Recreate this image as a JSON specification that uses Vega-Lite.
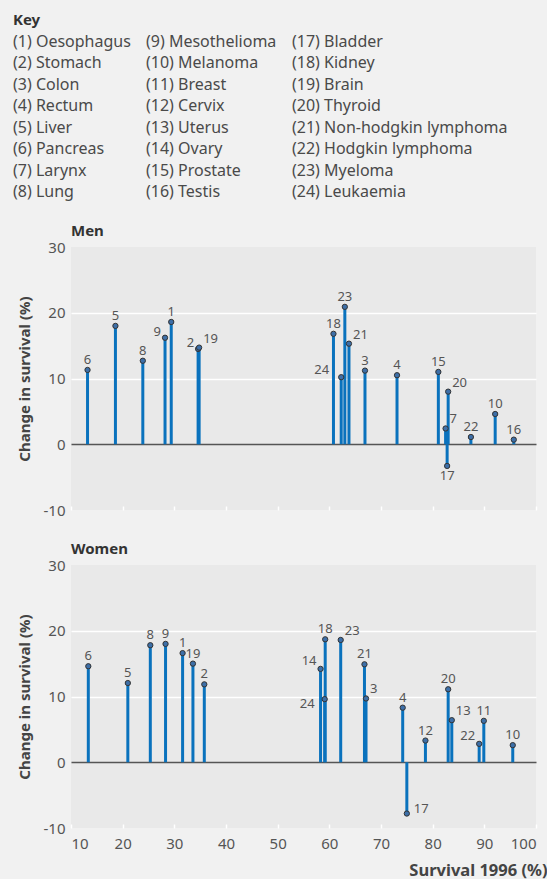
{
  "$schema": "https://vega.github.io/schema/vega-lite/v6.json",
  "background": "#f1f1f1",
  "padding": {"left": 13, "top": 13, "right": 0, "bottom": 0},
  "spacing": 23,
  "config": {
    "font": "Noto Sans",
    "view": {"stroke": null},
    "title": {"fontSize": 15, "fontWeight": "bold", "color": "#333", "anchor": "start", "frame": "group", "offset": 1.5}
  },
  "datasets": {
    "key": [
      {"label": "Key", "col": 1, "row": 0},
      {"label": "(1) Oesophagus", "col": 1, "row": 1},
      {"label": "(2) Stomach", "col": 1, "row": 2},
      {"label": "(3) Colon", "col": 1, "row": 3},
      {"label": "(4) Rectum", "col": 1, "row": 4},
      {"label": "(5) Liver", "col": 1, "row": 5},
      {"label": "(6) Pancreas", "col": 1, "row": 6},
      {"label": "(7) Larynx", "col": 1, "row": 7},
      {"label": "(8) Lung", "col": 1, "row": 8},
      {"label": "(9) Mesothelioma", "col": 2, "row": 1},
      {"label": "(10) Melanoma", "col": 2, "row": 2},
      {"label": "(11) Breast", "col": 2, "row": 3},
      {"label": "(12) Cervix", "col": 2, "row": 4},
      {"label": "(13) Uterus", "col": 2, "row": 5},
      {"label": "(14) Ovary", "col": 2, "row": 6},
      {"label": "(15) Prostate", "col": 2, "row": 7},
      {"label": "(16) Testis", "col": 2, "row": 8},
      {"label": "(17) Bladder", "col": 3, "row": 1},
      {"label": "(18) Kidney", "col": 3, "row": 2},
      {"label": "(19) Brain", "col": 3, "row": 3},
      {"label": "(20) Thyroid", "col": 3, "row": 4},
      {"label": "(21) Non-hodgkin lymphoma", "col": 3, "row": 5},
      {"label": "(22) Hodgkin lymphoma", "col": 3, "row": 6},
      {"label": "(23) Myeloma", "col": 3, "row": 7},
      {"label": "(24) Leukaemia", "col": 3, "row": 8}
    ],
    "pts": [
      {"sex": "Men", "n": 6, "survival": 13.2, "change": 11.3},
      {"sex": "Men", "n": 5, "survival": 18.6, "change": 18.0},
      {"sex": "Men", "n": 8, "survival": 23.9, "change": 12.7},
      {"sex": "Men", "n": 9, "survival": 28.2, "change": 16.2},
      {"sex": "Men", "n": 1, "survival": 29.4, "change": 18.6},
      {"sex": "Men", "n": 2, "survival": 34.6, "change": 14.5},
      {"sex": "Men", "n": 19, "survival": 34.8, "change": 14.7},
      {"sex": "Men", "n": 18, "survival": 60.8, "change": 16.8},
      {"sex": "Men", "n": 24, "survival": 62.3, "change": 10.2},
      {"sex": "Men", "n": 23, "survival": 63.0, "change": 20.9},
      {"sex": "Men", "n": 21, "survival": 63.8, "change": 15.3},
      {"sex": "Men", "n": 3, "survival": 66.9, "change": 11.2},
      {"sex": "Men", "n": 4, "survival": 73.1, "change": 10.5},
      {"sex": "Men", "n": 15, "survival": 81.1, "change": 11.0},
      {"sex": "Men", "n": 7, "survival": 82.5, "change": 2.4},
      {"sex": "Men", "n": 17, "survival": 82.8, "change": -3.3},
      {"sex": "Men", "n": 20, "survival": 83.0, "change": 8.0},
      {"sex": "Men", "n": 22, "survival": 87.4, "change": 1.1},
      {"sex": "Men", "n": 10, "survival": 92.1, "change": 4.6},
      {"sex": "Men", "n": 16, "survival": 95.7, "change": 0.7},
      {"sex": "Women", "n": 6, "survival": 13.35, "change": 14.6},
      {"sex": "Women", "n": 5, "survival": 21.0, "change": 12.05},
      {"sex": "Women", "n": 8, "survival": 25.35, "change": 17.8},
      {"sex": "Women", "n": 9, "survival": 28.3, "change": 18.0},
      {"sex": "Women", "n": 1, "survival": 31.6, "change": 16.6},
      {"sex": "Women", "n": 19, "survival": 33.6, "change": 15.0},
      {"sex": "Women", "n": 2, "survival": 35.8, "change": 11.85},
      {"sex": "Women", "n": 14, "survival": 58.3, "change": 14.2},
      {"sex": "Women", "n": 24, "survival": 59.1, "change": 9.6},
      {"sex": "Women", "n": 18, "survival": 59.2, "change": 18.7},
      {"sex": "Women", "n": 23, "survival": 62.2, "change": 18.6},
      {"sex": "Women", "n": 21, "survival": 66.8, "change": 14.9},
      {"sex": "Women", "n": 3, "survival": 67.1, "change": 9.7},
      {"sex": "Women", "n": 4, "survival": 74.2, "change": 8.3},
      {"sex": "Women", "n": 17, "survival": 75.0, "change": -7.8},
      {"sex": "Women", "n": 12, "survival": 78.6, "change": 3.3},
      {"sex": "Women", "n": 20, "survival": 83.0, "change": 11.1},
      {"sex": "Women", "n": 13, "survival": 83.7, "change": 6.4},
      {"sex": "Women", "n": 22, "survival": 89.0, "change": 2.8},
      {"sex": "Women", "n": 11, "survival": 89.9, "change": 6.3},
      {"sex": "Women", "n": 10, "survival": 95.5, "change": 2.6}
    ]
  },
  "vconcat": [
    {
      "width": 465,
      "height": 172,
      "data": {"name": "key"},
      "encoding": {
        "x": {"field": "col", "type": "quantitative", "axis": null, "scale": {"type": "pow", "exponent": 1.18, "domain": [1, 3], "range": [-58, 221]}},
        "y": {"field": "row", "type": "quantitative", "axis": null, "scale": {"domain": [0, 8], "range": [0, 172]}},
        "text": {"field": "label"}
      },
      "layer": [
        {"transform": [{"filter": "datum.row > 0"}], "mark": {"type": "text", "align": "left", "baseline": "middle", "fontSize": 16, "color": "#4a4a4a"}},
        {"transform": [{"filter": "datum.row == 0"}], "mark": {"type": "text", "align": "left", "baseline": "middle", "fontSize": 15, "fontWeight": "bold", "color": "#333"}}
      ]
    },
    {
      "title": "Men",
      "width": 465,
      "height": 263,
      "view": {"fill": "#e9e9e9", "stroke": null},
      "data": {"name": "pts"},
      "transform": [{"filter": "datum.sex == 'Men'"}],
      "encoding": {
        "x": {"field": "survival", "type": "quantitative", "scale": {"domain": [10, 100], "nice": false},
          "axis": {"values": [10, 20, 30, 40, 50, 60, 70, 80, 90, 100], "labels": false, "title": null, "domain": false, "grid": false, "ticks": true, "tickColor": "white", "tickSize": -4, "tickWidth": 1.5}},
        "y": {"field": "change", "type": "quantitative", "scale": {"domain": [-10, 30], "nice": false},
          "axis": {"values": [-10, 0, 10, 20, 30], "labelExpr": "'' + datum.value", "domain": false, "ticks": false, "grid": true,
            "gridColor": {"condition": [{"test": "datum.value === 0", "value": "#555"}, {"test": "datum.value === -10 || datum.value === 30", "value": "transparent"}], "value": "white"},
            "gridWidth": 1.5, "labelFontSize": 15, "labelColor": "#555", "labelPadding": 6,
            "title": "Change in survival (%)", "titleFontSize": 15, "titleFontWeight": "bold", "titleColor": "#444", "titlePadding": 11}}
      },
      "layer": [
        {"mark": {"type": "rule", "color": "#0a72bd", "strokeWidth": 3}, "encoding": {"y2": {"datum": 0}}},
        {"mark": {"type": "point", "filled": true, "fill": "#3d6fa8", "stroke": "#333", "strokeWidth": 1, "size": 28, "opacity": 1}},
        {"transform": [{"filter": "indexof([6,5,8,1,18,23,3,4,15,22,10,16], datum.n) >= 0"}], "mark": {"type": "text", "fontSize": 13, "color": "#555", "baseline": "middle", "dy": -10}, "encoding": {"text": {"field": "n"}}},
        {"transform": [{"filter": "indexof([9,2], datum.n) >= 0"}], "mark": {"type": "text", "fontSize": 13, "color": "#555", "baseline": "middle", "align": "right", "dx": -4, "dy": -6}, "encoding": {"text": {"field": "n"}}},
        {"transform": [{"filter": "datum.n == 24"}], "mark": {"type": "text", "fontSize": 13, "color": "#555", "baseline": "middle", "align": "right", "dx": -12, "dy": -7}, "encoding": {"text": {"field": "n"}}},
        {"transform": [{"filter": "indexof([19,21,20,7], datum.n) >= 0"}], "mark": {"type": "text", "fontSize": 13, "color": "#555", "baseline": "middle", "align": "left", "dx": 4, "dy": -9}, "encoding": {"text": {"field": "n"}}},
        {"transform": [{"filter": "datum.n == 17"}], "mark": {"type": "text", "fontSize": 13, "color": "#555", "baseline": "middle", "dy": 10}, "encoding": {"text": {"field": "n"}}}
      ]
    },
    {
      "title": "Women",
      "width": 465,
      "height": 263,
      "view": {"fill": "#e9e9e9", "stroke": null},
      "data": {"name": "pts"},
      "transform": [{"filter": "datum.sex == 'Women'"}],
      "encoding": {
        "x": {"field": "survival", "type": "quantitative", "scale": {"domain": [10, 100], "nice": false},
          "axis": {"values": [10, 20, 30, 40, 50, 60, 70, 80, 90, 100], "labels": true, "labelFontSize": 15, "labelColor": "#555", "labelPadding": 12,
            "title": "Survival 1996 (%)", "titleFontSize": 16.5, "titleFontWeight": "bold", "titleColor": "#444", "titleX": 476, "titleAlign": "right", "titlePadding": 11,
            "domain": false, "grid": false, "ticks": true, "tickColor": "white", "tickSize": -4, "tickWidth": 1.5}},
        "y": {"field": "change", "type": "quantitative", "scale": {"domain": [-10, 30], "nice": false},
          "axis": {"values": [-10, 0, 10, 20, 30], "labelExpr": "'' + datum.value", "domain": false, "ticks": false, "grid": true,
            "gridColor": {"condition": [{"test": "datum.value === 0", "value": "#555"}, {"test": "datum.value === -10 || datum.value === 30", "value": "transparent"}], "value": "white"},
            "gridWidth": 1.5, "labelFontSize": 15, "labelColor": "#555", "labelPadding": 6,
            "title": "Change in survival (%)", "titleFontSize": 15, "titleFontWeight": "bold", "titleColor": "#444", "titlePadding": 11}}
      },
      "layer": [
        {"mark": {"type": "rule", "color": "#0a72bd", "strokeWidth": 3}, "encoding": {"y2": {"datum": 0}}},
        {"mark": {"type": "point", "filled": true, "fill": "#3d6fa8", "stroke": "#333", "strokeWidth": 1, "size": 28, "opacity": 1}},
        {"transform": [{"filter": "indexof([6,5,8,9,1,19,2,18,21,4,12,20,11,10], datum.n) >= 0"}], "mark": {"type": "text", "fontSize": 13, "color": "#555", "baseline": "middle", "dy": -10}, "encoding": {"text": {"field": "n"}}},
        {"transform": [{"filter": "indexof([14,22], datum.n) >= 0"}], "mark": {"type": "text", "fontSize": 13, "color": "#555", "baseline": "middle", "align": "right", "dx": -4, "dy": -8}, "encoding": {"text": {"field": "n"}}},
        {"transform": [{"filter": "datum.n == 24"}], "mark": {"type": "text", "fontSize": 13, "color": "#555", "baseline": "middle", "align": "right", "dx": -10, "dy": 5}, "encoding": {"text": {"field": "n"}}},
        {"transform": [{"filter": "indexof([23,3,13], datum.n) >= 0"}], "mark": {"type": "text", "fontSize": 13, "color": "#555", "baseline": "middle", "align": "left", "dx": 4, "dy": -9}, "encoding": {"text": {"field": "n"}}},
        {"transform": [{"filter": "datum.n == 17"}], "mark": {"type": "text", "fontSize": 13, "color": "#555", "baseline": "middle", "align": "left", "dx": 7, "dy": -5}, "encoding": {"text": {"field": "n"}}}
      ]
    }
  ]
}
